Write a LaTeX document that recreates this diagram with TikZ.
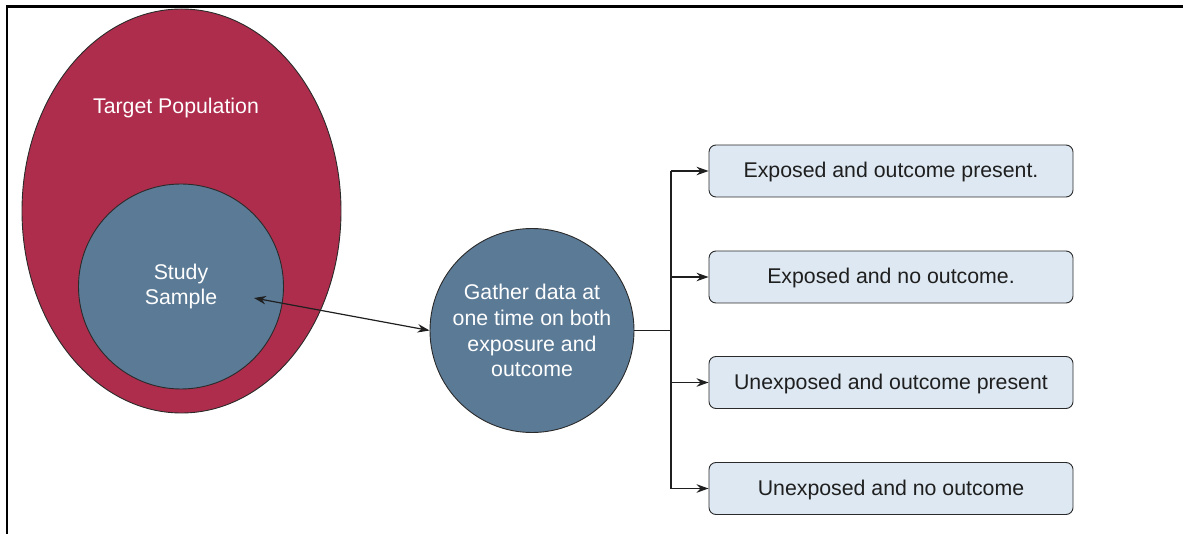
\documentclass[tikz,border=0pt]{standalone}
\usepackage{fontspec}
\setmainfont{Liberation Sans}
\usetikzlibrary{arrows.meta,shapes.geometric}
\definecolor{popred}{HTML}{AE2D4C}
\definecolor{sampblue}{HTML}{5B7A96}
\definecolor{boxfill}{HTML}{DDE8F2}
\definecolor{edge}{HTML}{2A2A2A}
\tikzset{
  every node/.style={font=\fontsize{21.3}{25.8}\selectfont, align=center, inner sep=0pt},
  disc/.style={circle, draw=edge, line width=0.9pt, fill=sampblue, text=white, minimum size=#1},
  outcomebox/.style={draw=edge, line width=0.9pt, fill=boxfill, rounded corners=7pt,
    minimum width=364pt, minimum height=52pt, text=black!88, text height=16pt, text depth=2pt},
  link/.style={draw=black!88, line width=1.2pt},
  tip/.style={-{Stealth[length=12pt,width=8.5pt]}},
}
\begin{document}
\begin{tikzpicture}[x=1pt,y=-1pt]
  \useasboundingbox (0,0) rectangle (1183,534);
  % frame on top and left
  \draw[line width=2.2pt] (7,534) -- (7,6.5) -- (1183,6.5);

  % population and sample
  \node[ellipse, draw=edge, line width=0.9pt, fill=popred, minimum width=319pt, minimum height=404pt] (pop) at (181.5,211) {};
  \node[text=white] (poplabel) at (176,108) {Target Population};
  \node[disc=205pt] (sample) at (181,286.5) {Study\\Sample};
  \coordinate (sampletip) at (254,298);

  % data collection
  \node[disc=204pt] (gather) at (532,330.5) {Gather data at\\one time on both\\exposure and\\outcome};

  % outcome groups
  \node[outcomebox] (b1) at (891,171) {Exposed and outcome present.};
  \node[outcomebox] (b2) at (891,277) {Exposed and no outcome.};
  \node[outcomebox] (b3) at (891,382.5) {Unexposed and outcome present};
  \node[outcomebox] (b4) at (891,488.5) {Unexposed and no outcome};

  % connectors
  \draw[link, {Stealth[length=12pt,width=8.5pt]}-{Stealth[length=12pt,width=8.5pt]}] (sampletip) -- (gather.west);
  \coordinate (fork) at (671,330.5);
  \draw[link] (gather.east) -- (fork);
  \draw[link] (fork |- b1.west) -- (fork |- b4.west);
  \foreach \b in {b1,b2,b3,b4}
    \draw[link, tip] (fork |- \b.west) -- (\b.west);
\end{tikzpicture}
\end{document}
